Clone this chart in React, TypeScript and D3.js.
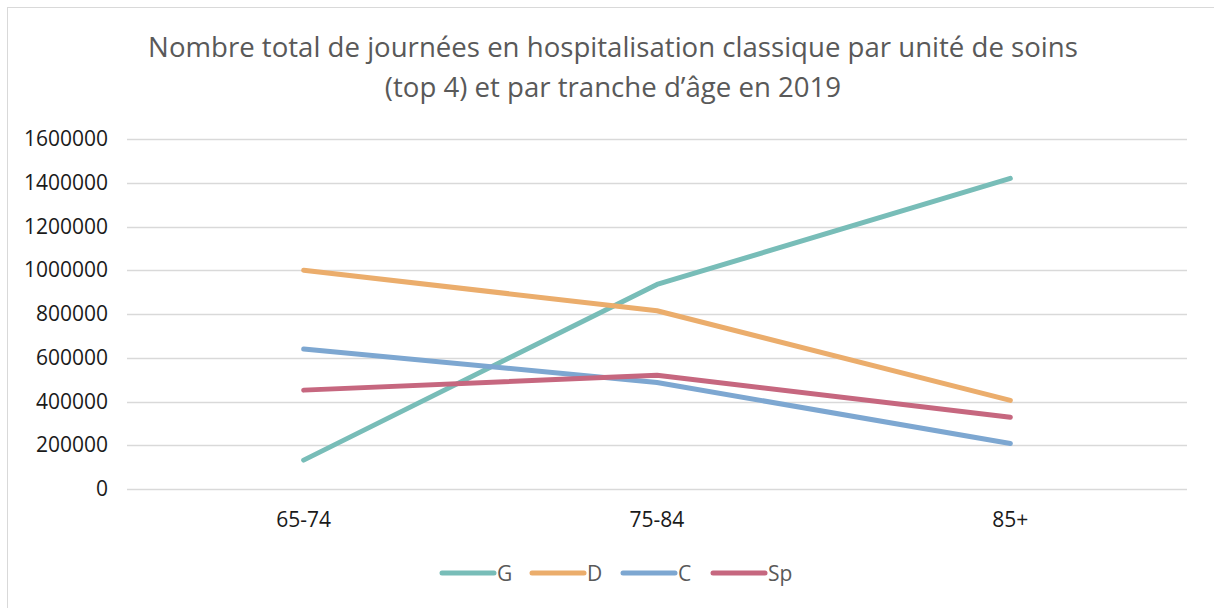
import React, { useEffect, useRef } from "react";
import * as d3 from "d3";

const categories = ["65-74", "75-84", "85+"];
const seriesNames = ["G", "D", "C", "Sp"];
const gValues = [132000, 935000, 1420000];
const dValues = [1000000, 815000, 405000];
const cValues = [640000, 487000, 208000];
const spValues = [452000, 520000, 328000];
const yTicks = [0, 200000, 400000, 600000, 800000, 1000000, 1200000, 1400000, 1600000];
const colors = ["#78BDB8", "#EBAD6C", "#7DA7D1", "#C6677F"];
const titleLines = [
  "Nombre total de journées en hospitalisation classique par unité de soins",
  "(top 4) et par tranche d’âge en 2019",
];

const FONT = "'Open Sans', 'Noto Sans', sans-serif";

const App = () => {
  const svgRef = useRef<SVGSVGElement>(null);

  useEffect(() => {
    const W = 1214;
    const H = 608;
    const plot = { left: 127, right: 1187, top: 139, bottom: 489 };

    const svg = d3.select(svgRef.current);
    svg.selectAll("*").remove();
    svg.attr("width", W).attr("height", H);

    svg
      .append("rect")
      .attr("x", 7.5)
      .attr("y", 7.5)
      .attr("width", W)
      .attr("height", H)
      .attr("fill", "#fff")
      .attr("stroke", "#d9d9d9")
      .attr("stroke-width", 1);

    // title
    svg
      .append("g")
      .selectAll("text")
      .data(titleLines)
      .join("text")
      .attr("x", 613)
      .attr("y", (d, i) => 57 + i * 40)
      .attr("text-anchor", "middle")
      .attr("font-family", FONT)
      .attr("font-size", 27.6)
      .attr("fill", "#595959")
      .text((d) => d);

    const x = d3
      .scalePoint()
      .domain(categories)
      .range([plot.left, plot.right])
      .padding(0.5);

    const y = d3
      .scaleLinear()
      .domain([0, 1600000])
      .range([plot.bottom, plot.top]);

    // gridlines
    svg
      .append("g")
      .selectAll("line")
      .data(yTicks)
      .join("line")
      .attr("x1", plot.left)
      .attr("x2", plot.right)
      .attr("y1", (d) => Math.round(y(d)) + 0.5)
      .attr("y2", (d) => Math.round(y(d)) + 0.5)
      .attr("stroke", "#d9d9d9")
      .attr("stroke-width", 1.5);

    // y labels
    svg
      .append("g")
      .selectAll("text")
      .data(yTicks)
      .join("text")
      .attr("x", 108)
      .attr("y", (d) => y(d) + 7)
      .attr("text-anchor", "end")
      .attr("font-family", FONT)
      .attr("font-size", 21)
      .attr("fill", "#1a1a1a")
      .text((d) => String(d));

    // x labels
    svg
      .append("g")
      .selectAll("text")
      .data(categories)
      .join("text")
      .attr("x", (d) => x(d)!)
      .attr("y", 527)
      .attr("text-anchor", "middle")
      .attr("font-family", FONT)
      .attr("font-size", 21)
      .attr("fill", "#1a1a1a")
      .text((d) => d);

    const series = [gValues, dValues, cValues, spValues];
    const line = d3
      .line<number>()
      .x((d, i) => x(categories[i])!)
      .y((d) => y(d));

    series.forEach((vals, i) => {
      svg
        .append("path")
        .datum(vals)
        .attr("fill", "none")
        .attr("stroke", colors[i])
        .attr("stroke-width", 5)
        .attr("stroke-linecap", "round")
        .attr("stroke-linejoin", "round")
        .attr("d", line);
    });

    // legend
    const legendX = [440, 530, 621, 711];
    const lg = svg
      .append("g")
      .selectAll("g")
      .data(seriesNames)
      .join("g")
      .attr("transform", (d, i) => `translate(${legendX[i]},573)`);
    lg.append("line")
      .attr("x1", 2)
      .attr("x2", 54)
      .attr("stroke", (d, i) => colors[i])
      .attr("stroke-width", 5)
      .attr("stroke-linecap", "round");
    lg.append("text")
      .attr("x", 57)
      .attr("y", 8)
      .attr("font-family", FONT)
      .attr("font-size", 21)
      .attr("fill", "#595959")
      .text((d) => d);
  }, []);

  return (
    <svg
      ref={svgRef}
      style={{ position: "absolute", left: 0, top: 0, display: "block" }}
    ></svg>
  );
};

export default App;
